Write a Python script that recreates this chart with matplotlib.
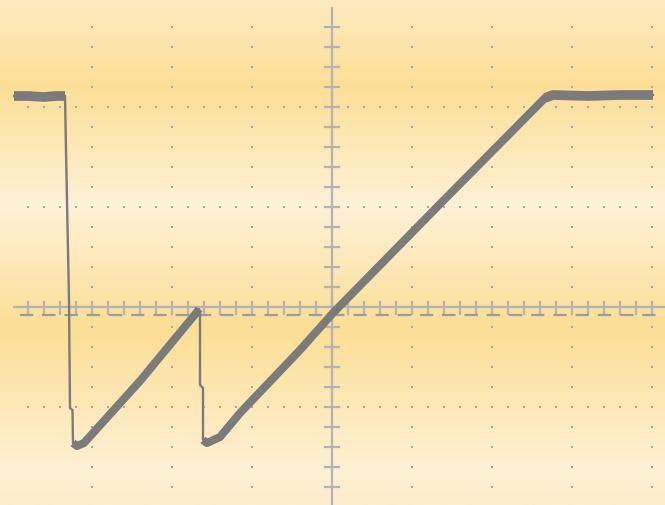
import numpy as np
import matplotlib.pyplot as plt
from matplotlib.colors import LinearSegmentedColormap

# scope trace, in divisions (x: 80 px/div, y: 100 px/div, centre = 0,0)
trace_x = [-3.975, -3.80, -3.60, -3.45, -3.3375,
           -3.325, -3.2875, -3.275, -3.244, -3.2375,
           -3.1875, -3.10, -2.40, -1.6875, -1.6625,
           -1.65, -1.65, -1.6125, -1.6125,
           -1.5625, -1.40, -1.15, -0.40, 0.0125, 1.35, 2.6625,
           2.7625, 3.20, 3.60, 4.0125]
trace_y = [2.11, 2.11, 2.10, 2.11, 2.11,
           1.57, 0.07, -1.01, -1.03, -1.36,
           -1.39, -1.36, -0.74, -0.05, -0.02,
           -0.05, -0.78, -0.81, -1.33,
           -1.36, -1.30, -1.06, -0.43, -0.06, 1.03, 2.09,
           2.12, 2.11, 2.12, 2.12]

# slices drawn heavy: flat tops, then ramps; drops stay thin
flat_ranges = [(0, 5), (25, 30)]
ramp_ranges = [(9, 15), (18, 27)]

trace_col = '#7b7b7b'
axis_col = '#b3b3b3'
dot_col = '#a6a6a6'

fig = plt.figure(figsize=(6.65, 5.05), dpi=100)
ax = fig.add_axes([0, 0, 1, 1])
x0, x1 = -332 / 80, 333 / 80
y0, y1 = -198 / 100, 307 / 100
ax.set_xlim(x0, x1)
ax.set_ylim(y0, y1)
ax.axis('off')

# yellow banded background (top of image = position 0)
bg = LinearSegmentedColormap.from_list('bg', [
    (0.00, '#fdeabf'), (0.17, '#fcdf97'), (0.41, '#fef1d6'),
    (0.65, '#fcdf95'), (0.93, '#fef0d4'), (1.00, '#fdedca')])
grad = np.linspace(0, 1, 256).reshape(-1, 1)
ax.imshow(grad, cmap=bg, extent=(x0, x1, y0, y1), aspect='auto', zorder=0)

# dotted graticule
step = 0.2
row_x = np.arange(-3.8, 4.01, step)
for gy in [-1, 1, 2]:
    ax.scatter(row_x, np.full(row_x.shape, gy), s=3.5, c=dot_col, marker='s', lw=0, zorder=1)
col_y = np.arange(-1.8, 2.81, step)
for gx in [-3, -2, -1, 1, 2, 3, 4]:
    ax.scatter(np.full(col_y.shape, gx), col_y, s=3.5, c=dot_col, marker='s', lw=0, zorder=1)

# centre axes with minor ticks
ax.plot([0, 0], [y0, 2.99], c=axis_col, lw=1.6, zorder=2)
for ty in np.arange(-1.8, 2.81, step):
    ax.plot([-0.085, 0.085], [ty, ty], c=axis_col, lw=1.6, zorder=2)
ax.plot([-3.975, x1], [0, 0], c=axis_col, lw=1.6, zorder=2)
for tx in np.arange(-3.8, 4.01, step):
    ax.plot([tx, tx], [0.05, -0.07], c=axis_col, lw=1.6, zorder=2)
ax.plot([-3.9, 4.1], [-0.075, -0.075], c='#9c9c9c', lw=1.6, zorder=2,
        dashes=(6, 4), dash_capstyle='butt')

# trace
ax.plot(trace_x, trace_y, c=trace_col, lw=1.7, zorder=3)
for a, b in ramp_ranges:
    ax.plot(trace_x[a:b], trace_y[a:b], c=trace_col, lw=5.8, zorder=3,
            solid_capstyle='butt')
for a, b in flat_ranges:
    ax.plot(trace_x[a:b], trace_y[a:b], c=trace_col, lw=7.0, zorder=3,
            solid_capstyle='butt')

fig.savefig('out.png', dpi=100)
